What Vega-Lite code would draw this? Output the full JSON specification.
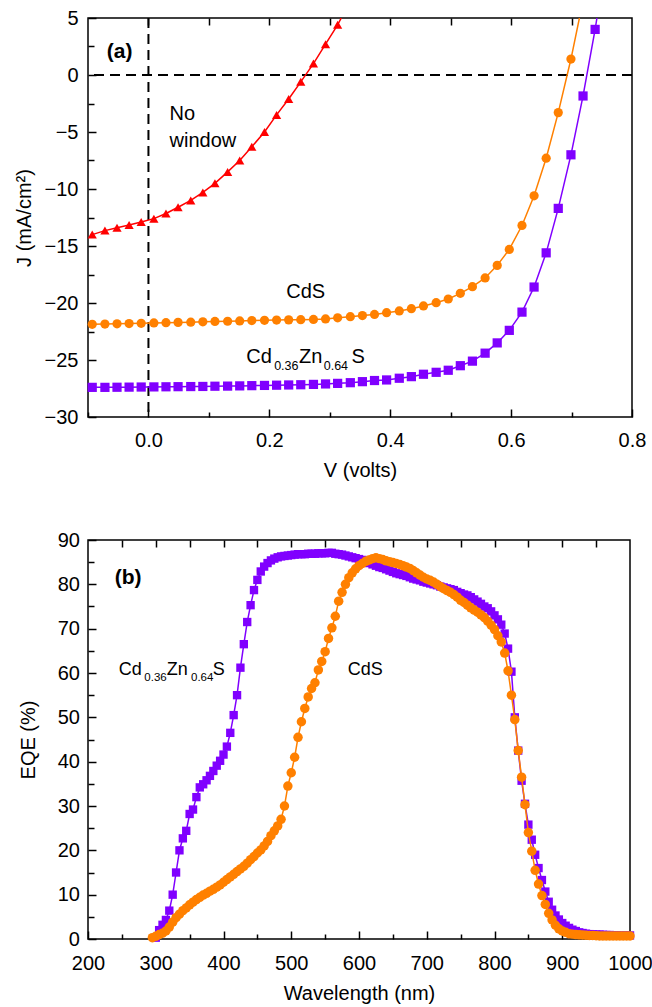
{
  "$schema": "https://vega.github.io/schema/vega-lite/v6.json",
  "padding": {"left": 13, "top": 7, "right": 0, "bottom": 5},
  "config": {
    "font": "Liberation Sans",
    "view": {"stroke": "black", "strokeWidth": 1.5},
    "axis": {"grid": false, "domain": false, "ticks": true, "labelFlush": false, "labelFont": "Liberation Sans", "labelFontSize": 20, "titleFont": "Liberation Sans", "titleFontSize": 20, "titleFontWeight": "normal", "labelColor": "black", "titleColor": "black", "tickColor": "black", "tickOpacity": 1, "tickWidth": 1.5, "zindex": 1},
    "concat": {"spacing": 48}
  },
  "datasets": {
    "iv": [
      {"V":-0.093,"J":-14.0,"d":"No window"},{"V":-0.072,"J":-13.65,"d":"No window"},{"V":-0.052,"J":-13.4,"d":"No window"},{"V":-0.032,"J":-13.15,"d":"No window"},{"V":-0.012,"J":-12.9,"d":"No window"},{"V":0.009,"J":-12.6,"d":"No window"},{"V":0.029,"J":-12.15,"d":"No window"},{"V":0.049,"J":-11.6,"d":"No window"},{"V":0.070,"J":-11.0,"d":"No window"},{"V":0.090,"J":-10.3,"d":"No window"},{"V":0.110,"J":-9.5,"d":"No window"},{"V":0.131,"J":-8.5,"d":"No window"},{"V":0.151,"J":-7.5,"d":"No window"},{"V":0.171,"J":-6.3,"d":"No window"},{"V":0.192,"J":-5.0,"d":"No window"},{"V":0.212,"J":-3.5,"d":"No window"},{"V":0.232,"J":-2.1,"d":"No window"},{"V":0.252,"J":-0.6,"d":"No window"},{"V":0.273,"J":1.0,"d":"No window"},{"V":0.293,"J":2.7,"d":"No window"},{"V":0.313,"J":4.4,"d":"No window"},{"V":0.319,"J":5.0,"d":"No window"},
      {"V":-0.093,"J":-21.87,"d":"CdS"},{"V":-0.072,"J":-21.85,"d":"CdS"},{"V":-0.052,"J":-21.83,"d":"CdS"},{"V":-0.032,"J":-21.8,"d":"CdS"},{"V":-0.012,"J":-21.78,"d":"CdS"},{"V":0.009,"J":-21.75,"d":"CdS"},{"V":0.029,"J":-21.73,"d":"CdS"},{"V":0.049,"J":-21.7,"d":"CdS"},{"V":0.070,"J":-21.68,"d":"CdS"},{"V":0.090,"J":-21.65,"d":"CdS"},{"V":0.110,"J":-21.62,"d":"CdS"},{"V":0.131,"J":-21.6,"d":"CdS"},{"V":0.151,"J":-21.57,"d":"CdS"},{"V":0.171,"J":-21.54,"d":"CdS"},{"V":0.192,"J":-21.52,"d":"CdS"},{"V":0.212,"J":-21.5,"d":"CdS"},{"V":0.232,"J":-21.48,"d":"CdS"},{"V":0.252,"J":-21.46,"d":"CdS"},{"V":0.273,"J":-21.44,"d":"CdS"},{"V":0.293,"J":-21.4,"d":"CdS"},{"V":0.313,"J":-21.3,"d":"CdS"},{"V":0.334,"J":-21.2,"d":"CdS"},{"V":0.354,"J":-21.1,"d":"CdS"},{"V":0.374,"J":-21.0,"d":"CdS"},{"V":0.394,"J":-20.85,"d":"CdS"},{"V":0.415,"J":-20.7,"d":"CdS"},{"V":0.435,"J":-20.5,"d":"CdS"},{"V":0.455,"J":-20.26,"d":"CdS"},{"V":0.476,"J":-19.97,"d":"CdS"},{"V":0.496,"J":-19.65,"d":"CdS"},{"V":0.516,"J":-19.15,"d":"CdS"},{"V":0.536,"J":-18.57,"d":"CdS"},{"V":0.557,"J":-17.8,"d":"CdS"},{"V":0.577,"J":-16.7,"d":"CdS"},{"V":0.597,"J":-15.3,"d":"CdS"},{"V":0.618,"J":-13.2,"d":"CdS"},{"V":0.638,"J":-10.6,"d":"CdS"},{"V":0.658,"J":-7.3,"d":"CdS"},{"V":0.678,"J":-3.3,"d":"CdS"},{"V":0.699,"J":1.4,"d":"CdS"},{"V":0.713,"J":5.0,"d":"CdS"},
      {"V":-0.093,"J":-27.4,"d":"CdZnS"},{"V":-0.072,"J":-27.4,"d":"CdZnS"},{"V":-0.052,"J":-27.39,"d":"CdZnS"},{"V":-0.032,"J":-27.38,"d":"CdZnS"},{"V":-0.012,"J":-27.37,"d":"CdZnS"},{"V":0.009,"J":-27.36,"d":"CdZnS"},{"V":0.029,"J":-27.35,"d":"CdZnS"},{"V":0.049,"J":-27.34,"d":"CdZnS"},{"V":0.070,"J":-27.33,"d":"CdZnS"},{"V":0.090,"J":-27.32,"d":"CdZnS"},{"V":0.110,"J":-27.3,"d":"CdZnS"},{"V":0.131,"J":-27.29,"d":"CdZnS"},{"V":0.151,"J":-27.27,"d":"CdZnS"},{"V":0.171,"J":-27.25,"d":"CdZnS"},{"V":0.192,"J":-27.23,"d":"CdZnS"},{"V":0.212,"J":-27.21,"d":"CdZnS"},{"V":0.232,"J":-27.19,"d":"CdZnS"},{"V":0.252,"J":-27.17,"d":"CdZnS"},{"V":0.273,"J":-27.14,"d":"CdZnS"},{"V":0.293,"J":-27.1,"d":"CdZnS"},{"V":0.313,"J":-27.05,"d":"CdZnS"},{"V":0.334,"J":-26.99,"d":"CdZnS"},{"V":0.354,"J":-26.9,"d":"CdZnS"},{"V":0.374,"J":-26.8,"d":"CdZnS"},{"V":0.394,"J":-26.75,"d":"CdZnS"},{"V":0.415,"J":-26.6,"d":"CdZnS"},{"V":0.435,"J":-26.46,"d":"CdZnS"},{"V":0.455,"J":-26.25,"d":"CdZnS"},{"V":0.476,"J":-26.08,"d":"CdZnS"},{"V":0.496,"J":-25.9,"d":"CdZnS"},{"V":0.516,"J":-25.5,"d":"CdZnS"},{"V":0.536,"J":-25.1,"d":"CdZnS"},{"V":0.557,"J":-24.4,"d":"CdZnS"},{"V":0.577,"J":-23.5,"d":"CdZnS"},{"V":0.597,"J":-22.4,"d":"CdZnS"},{"V":0.618,"J":-20.8,"d":"CdZnS"},{"V":0.638,"J":-18.6,"d":"CdZnS"},{"V":0.658,"J":-15.6,"d":"CdZnS"},{"V":0.678,"J":-11.7,"d":"CdZnS"},{"V":0.699,"J":-7.0,"d":"CdZnS"},{"V":0.719,"J":-1.84,"d":"CdZnS"},{"V":0.739,"J":4.0,"d":"CdZnS"},{"V":0.742,"J":5.0,"d":"CdZnS"}
    ],
    "eqe_czs": [
      {"wl":300,"q":0.3},{"wl":305,"q":2.0},{"wl":310,"q":3.2},{"wl":315,"q":4.3},{"wl":320,"q":6.4},{"wl":325,"q":10.0},{"wl":330,"q":15.0},{"wl":335,"q":20.0},{"wl":340,"q":22.7},{"wl":345,"q":24.4},{"wl":350,"q":28.2},{"wl":355,"q":29.2},{"wl":360,"q":32.0},{"wl":365,"q":34.2},{"wl":370,"q":34.9},{"wl":375,"q":35.8},{"wl":380,"q":36.8},{"wl":385,"q":37.9},{"wl":390,"q":39.1},{"wl":395,"q":40.2},{"wl":400,"q":41.6},{"wl":405,"q":43.4},{"wl":410,"q":46.5},{"wl":415,"q":50.5},{"wl":420,"q":55.0},{"wl":425,"q":61.2},{"wl":430,"q":66.5},{"wl":435,"q":71.5},{"wl":440,"q":75.3},{"wl":445,"q":78.7},{"wl":450,"q":81.0},{"wl":455,"q":82.9},{"wl":460,"q":84.0},{"wl":465,"q":84.8},{"wl":470,"q":85.4},{"wl":475,"q":85.8},{"wl":480,"q":86.1},{"wl":485,"q":86.3},{"wl":490,"q":86.4},{"wl":495,"q":86.5},{"wl":500,"q":86.6},{"wl":505,"q":86.7},{"wl":510,"q":86.8},{"wl":515,"q":86.8},{"wl":520,"q":86.8},{"wl":525,"q":86.9},{"wl":530,"q":86.9},{"wl":535,"q":86.9},{"wl":540,"q":87.0},{"wl":545,"q":87.0},{"wl":550,"q":87.0},{"wl":555,"q":87.1},{"wl":560,"q":87.1},{"wl":565,"q":86.9},{"wl":570,"q":86.8},{"wl":575,"q":86.7},{"wl":580,"q":86.5},{"wl":585,"q":86.3},{"wl":590,"q":86.1},{"wl":595,"q":85.9},{"wl":600,"q":85.7},{"wl":605,"q":85.5},{"wl":610,"q":85.2},{"wl":615,"q":84.8},{"wl":620,"q":84.5},{"wl":625,"q":84.2},{"wl":630,"q":83.9},{"wl":635,"q":83.7},{"wl":640,"q":83.4},{"wl":645,"q":83.1},{"wl":650,"q":82.8},{"wl":655,"q":82.5},{"wl":660,"q":82.3},{"wl":665,"q":82.1},{"wl":670,"q":81.9},{"wl":675,"q":81.6},{"wl":680,"q":81.3},{"wl":685,"q":81.1},{"wl":690,"q":80.9},{"wl":695,"q":80.6},{"wl":700,"q":80.4},{"wl":705,"q":80.2},{"wl":710,"q":80.0},{"wl":715,"q":79.8},{"wl":720,"q":79.5},{"wl":725,"q":79.3},{"wl":730,"q":79.1},{"wl":735,"q":78.9},{"wl":740,"q":78.7},{"wl":745,"q":78.3},{"wl":750,"q":78.0},{"wl":755,"q":77.7},{"wl":760,"q":77.5},{"wl":765,"q":77.1},{"wl":770,"q":76.6},{"wl":775,"q":76.1},{"wl":780,"q":75.6},{"wl":785,"q":75.0},{"wl":790,"q":74.6},{"wl":795,"q":73.9},{"wl":800,"q":73.0},{"wl":805,"q":72.1},{"wl":810,"q":70.9},{"wl":815,"q":68.9},{"wl":820,"q":65.5},{"wl":825,"q":60.3},{"wl":830,"q":50.0},{"wl":835,"q":42.5},{"wl":840,"q":35.7},{"wl":845,"q":30.5},{"wl":850,"q":25.8},{"wl":855,"q":22.4},{"wl":860,"q":19.0},{"wl":865,"q":16.0},{"wl":870,"q":13.3},{"wl":875,"q":10.7},{"wl":880,"q":8.4},{"wl":885,"q":6.6},{"wl":890,"q":5.3},{"wl":895,"q":4.4},{"wl":900,"q":3.6},{"wl":905,"q":3.0},{"wl":910,"q":2.5},{"wl":915,"q":2.1},{"wl":920,"q":1.8},{"wl":925,"q":1.5},{"wl":930,"q":1.35},{"wl":935,"q":1.2},{"wl":940,"q":1.1},{"wl":945,"q":1.05},{"wl":950,"q":1.0},{"wl":955,"q":1.0},{"wl":960,"q":0.95},{"wl":965,"q":0.9},{"wl":970,"q":0.9},{"wl":975,"q":0.85},{"wl":980,"q":0.85},{"wl":985,"q":0.8},{"wl":990,"q":0.8},{"wl":995,"q":0.8},{"wl":1000,"q":0.8}
    ],
    "eqe_cds": [
      {"wl":295,"q":0.3},{"wl":300,"q":0.6},{"wl":305,"q":1.0},{"wl":310,"q":1.3},{"wl":315,"q":1.8},{"wl":320,"q":2.7},{"wl":325,"q":3.8},{"wl":330,"q":4.8},{"wl":335,"q":5.6},{"wl":340,"q":6.4},{"wl":345,"q":7.0},{"wl":350,"q":7.7},{"wl":355,"q":8.3},{"wl":360,"q":8.9},{"wl":365,"q":9.4},{"wl":370,"q":9.9},{"wl":375,"q":10.3},{"wl":380,"q":10.8},{"wl":385,"q":11.2},{"wl":390,"q":11.7},{"wl":395,"q":12.2},{"wl":400,"q":12.8},{"wl":405,"q":13.4},{"wl":410,"q":14.0},{"wl":415,"q":14.6},{"wl":420,"q":15.2},{"wl":425,"q":15.8},{"wl":430,"q":16.4},{"wl":435,"q":17.1},{"wl":440,"q":17.9},{"wl":445,"q":18.6},{"wl":450,"q":19.4},{"wl":455,"q":20.1},{"wl":460,"q":21.0},{"wl":465,"q":22.0},{"wl":470,"q":23.3},{"wl":475,"q":24.4},{"wl":480,"q":25.5},{"wl":485,"q":27.0},{"wl":490,"q":30.0},{"wl":495,"q":34.5},{"wl":500,"q":37.5},{"wl":505,"q":41.0},{"wl":510,"q":45.5},{"wl":515,"q":49.0},{"wl":520,"q":52.0},{"wl":525,"q":54.6},{"wl":530,"q":56.5},{"wl":535,"q":57.8},{"wl":540,"q":60.7},{"wl":545,"q":62.6},{"wl":550,"q":64.8},{"wl":555,"q":67.8},{"wl":560,"q":70.2},{"wl":565,"q":72.8},{"wl":570,"q":76.2},{"wl":575,"q":78.2},{"wl":580,"q":80.0},{"wl":585,"q":81.5},{"wl":590,"q":82.6},{"wl":595,"q":83.5},{"wl":600,"q":84.2},{"wl":605,"q":84.7},{"wl":610,"q":85.2},{"wl":615,"q":85.5},{"wl":620,"q":85.8},{"wl":625,"q":86.0},{"wl":630,"q":85.8},{"wl":635,"q":85.6},{"wl":640,"q":85.3},{"wl":645,"q":85.1},{"wl":650,"q":84.9},{"wl":655,"q":84.7},{"wl":660,"q":84.5},{"wl":665,"q":84.2},{"wl":670,"q":83.9},{"wl":675,"q":83.6},{"wl":680,"q":83.1},{"wl":685,"q":82.6},{"wl":690,"q":82.1},{"wl":695,"q":81.6},{"wl":700,"q":81.2},{"wl":705,"q":80.9},{"wl":710,"q":80.5},{"wl":715,"q":80.0},{"wl":720,"q":79.5},{"wl":725,"q":79.0},{"wl":730,"q":78.6},{"wl":735,"q":78.2},{"wl":740,"q":77.7},{"wl":745,"q":77.1},{"wl":750,"q":76.4},{"wl":755,"q":75.9},{"wl":760,"q":75.3},{"wl":765,"q":74.7},{"wl":770,"q":74.2},{"wl":775,"q":73.7},{"wl":780,"q":73.1},{"wl":785,"q":72.5},{"wl":790,"q":71.7},{"wl":795,"q":70.8},{"wl":800,"q":69.8},{"wl":805,"q":68.4},{"wl":810,"q":67.0},{"wl":815,"q":64.5},{"wl":820,"q":60.5},{"wl":825,"q":55.0},{"wl":830,"q":49.5},{"wl":835,"q":42.5},{"wl":840,"q":36.5},{"wl":845,"q":30.3},{"wl":850,"q":24.0},{"wl":855,"q":19.8},{"wl":860,"q":15.5},{"wl":865,"q":12.4},{"wl":870,"q":9.8},{"wl":875,"q":7.8},{"wl":880,"q":5.8},{"wl":885,"q":4.3},{"wl":890,"q":3.1},{"wl":895,"q":2.3},{"wl":900,"q":1.8},{"wl":905,"q":1.5},{"wl":910,"q":1.2},{"wl":915,"q":1.1},{"wl":920,"q":1.0},{"wl":925,"q":0.95},{"wl":930,"q":0.9},{"wl":935,"q":0.85},{"wl":940,"q":0.8},{"wl":945,"q":0.8},{"wl":950,"q":0.75},{"wl":955,"q":0.7},{"wl":960,"q":0.7},{"wl":965,"q":0.7},{"wl":970,"q":0.7},{"wl":975,"q":0.7},{"wl":980,"q":0.7},{"wl":985,"q":0.7},{"wl":990,"q":0.7},{"wl":995,"q":0.7},{"wl":1000,"q":0.7}
    ]
  },
  "columns": 1,
  "align": "none",
  "concat": [
    {
      "width": 544,
      "height": 399,
      "resolve": {"axis": {"x": "independent", "y": "independent"}},
      "layer": [
        {
          "data": {"values": [{"ref": 0}]},
          "mark": {"type": "rule", "strokeDash": [10, 6], "strokeWidth": 2, "color": "black"},
          "encoding": {
            "x": {"field": "ref", "type": "quantitative", "scale": {"domain": [-0.1, 0.8], "nice": false, "zero": false},
                  "axis": {"orient": "bottom", "values": [-0.1, 0.1, 0.3, 0.5, 0.7], "labels": false, "offset": -5, "tickSize": 5, "title": null}}
          }
        },
        {
          "data": {"values": [{"ref": 0}]},
          "mark": {"type": "rule", "strokeDash": [10, 6], "strokeWidth": 2, "color": "black"},
          "encoding": {
            "y": {"field": "ref", "type": "quantitative", "scale": {"domain": [-30, 5], "nice": false, "zero": false},
                  "axis": {"orient": "left", "values": [-27.5, -22.5, -17.5, -12.5, -7.5, -2.5, 2.5], "labels": false, "offset": -6, "tickSize": 6, "title": null}}
          }
        },
        {
          "data": {"name": "iv"},
          "mark": {"type": "line", "strokeWidth": 1.5, "clip": true},
          "encoding": {
            "x": {"field": "V", "type": "quantitative",
                  "axis": {"orient": "bottom", "values": [0, 0.2, 0.4, 0.6, 0.8], "format": ".1f", "tickSize": 0, "labelPadding": 13, "title": "V (volts)", "titlePadding": 10}},
            "y": {"field": "J", "type": "quantitative",
                  "axis": {"orient": "left", "values": [-30, -25, -20, -15, -10, -5, 0, 5], "tickSize": 0, "labelPadding": 10, "title": "J (mA/cm²)", "titlePadding": 9.7}},
            "color": {"field": "d", "type": "nominal", "scale": {"domain": ["No window", "CdS", "CdZnS"], "range": ["#FF0000", "#FF8000", "#8000FF"]}, "legend": null}
          }
        },
        {
          "data": {"name": "iv"},
          "transform": [{"filter": "datum.J < 5"}],
          "mark": {"type": "point", "filled": true, "opacity": 1, "size": 85},
          "encoding": {
            "x": {"field": "V", "type": "quantitative",
                  "axis": {"orient": "bottom", "values": [0, 0.2, 0.4, 0.6, 0.8], "labels": false, "offset": -8, "tickSize": 8, "title": null}},
            "y": {"field": "J", "type": "quantitative",
                  "axis": {"orient": "left", "values": [-30, -25, -20, -15, -10, -5, 0, 5], "labels": false, "offset": -8, "tickSize": 8, "title": null}},
            "color": {"field": "d", "type": "nominal", "scale": {"domain": ["No window", "CdS", "CdZnS"], "range": ["#FF0000", "#FF8000", "#8000FF"]}, "legend": null},
            "shape": {"field": "d", "type": "nominal", "scale": {"domain": ["No window", "CdS", "CdZnS"], "range": ["triangle-up", "circle", "square"]}, "legend": null}
          }
        },
        {
          "data": {"values": [{"x": -0.069, "y": 1.5, "t": "(a)"}]},
          "mark": {"type": "text", "align": "left", "baseline": "alphabetic", "fontSize": 21, "fontWeight": "bold", "font": "Liberation Sans", "color": "black"},
          "encoding": {
            "x": {"field": "x", "type": "quantitative",
                  "axis": {"orient": "top", "values": [0, 0.1, 0.2, 0.3, 0.4, 0.5, 0.6, 0.7], "labels": false, "offset": -7, "tickSize": 7, "title": null}},
            "y": {"field": "y", "type": "quantitative", "axis": null},
            "text": {"field": "t"}
          }
        },
        {
          "data": {"values": [
            {"x": 0.035, "y": -3.95, "t": "No"},
            {"x": 0.035, "y": -6.3, "t": "window"},
            {"x": 0.228, "y": -19.6, "t": "CdS"},
            {"x": 0.162, "y": -25.3, "t": "Cd"},
            {"x": 0.249, "y": -25.3, "t": "Zn"},
            {"x": 0.336, "y": -25.3, "t": "S"}
          ]},
          "mark": {"type": "text", "align": "left", "baseline": "alphabetic", "fontSize": 20, "font": "Liberation Sans", "color": "black"},
          "encoding": {
            "x": {"field": "x", "type": "quantitative", "axis": null},
            "y": {"field": "y", "type": "quantitative", "axis": null},
            "text": {"field": "t"}
          }
        },
        {
          "data": {"values": [
            {"x": 0.208, "y": -25.9, "t": "0.36"},
            {"x": 0.290, "y": -25.9, "t": "0.64"}
          ]},
          "mark": {"type": "text", "align": "left", "baseline": "alphabetic", "fontSize": 12.5, "font": "Liberation Sans", "color": "black"},
          "encoding": {
            "x": {"field": "x", "type": "quantitative", "axis": null},
            "y": {"field": "y", "type": "quantitative", "axis": null},
            "text": {"field": "t"}
          }
        }
      ]
    },
    {
      "width": 542,
      "height": 399,
      "resolve": {"axis": {"x": "independent", "y": "independent"}},
      "layer": [
        {
          "data": {"name": "eqe_czs"},
          "mark": {"type": "line", "strokeWidth": 1.5, "color": "#8000FF"},
          "encoding": {
            "x": {"field": "wl", "type": "quantitative", "scale": {"domain": [200, 1000], "nice": false, "zero": false},
                  "axis": {"orient": "bottom", "values": [200, 300, 400, 500, 600, 700, 800, 900, 1000], "format": "d", "tickSize": 0, "labelPadding": 14, "title": "Wavelength (nm)", "titlePadding": 10}},
            "y": {"field": "q", "type": "quantitative", "scale": {"domain": [0, 90], "nice": false, "zero": false},
                  "axis": {"orient": "left", "values": [0, 10, 20, 30, 40, 50, 60, 70, 80, 90], "format": "d", "tickSize": 0, "labelPadding": 8.6, "title": "EQE (%)", "titlePadding": 19}}
          }
        },
        {
          "data": {"name": "eqe_czs"},
          "mark": {"type": "point", "shape": "square", "filled": true, "opacity": 1, "size": 70, "color": "#8000FF"},
          "encoding": {
            "x": {"field": "wl", "type": "quantitative",
                  "axis": {"orient": "bottom", "values": [200, 300, 400, 500, 600, 700, 800, 900, 1000], "labels": false, "offset": -8, "tickSize": 8, "title": null}},
            "y": {"field": "q", "type": "quantitative",
                  "axis": {"orient": "left", "values": [0, 10, 20, 30, 40, 50, 60, 70, 80, 90], "labels": false, "offset": -8, "tickSize": 8, "title": null}}
          }
        },
        {
          "data": {"name": "eqe_cds"},
          "mark": {"type": "line", "strokeWidth": 1.5, "color": "#FF8000"},
          "encoding": {
            "x": {"field": "wl", "type": "quantitative",
                  "axis": {"orient": "bottom", "values": [250, 350, 450, 550, 650, 750, 850, 950], "labels": false, "offset": -5, "tickSize": 5, "title": null}},
            "y": {"field": "q", "type": "quantitative",
                  "axis": {"orient": "left", "values": [5, 15, 25, 35, 45, 55, 65, 75, 85], "labels": false, "offset": -6, "tickSize": 6, "title": null}}
          }
        },
        {
          "data": {"name": "eqe_cds"},
          "mark": {"type": "point", "shape": "circle", "filled": true, "opacity": 1, "size": 90, "color": "#FF8000"},
          "encoding": {
            "x": {"field": "wl", "type": "quantitative", "axis": null},
            "y": {"field": "q", "type": "quantitative", "axis": null}
          }
        },
        {
          "data": {"values": [{"x": 239.4, "y": 80.0, "t": "(b)"}]},
          "mark": {"type": "text", "align": "left", "baseline": "alphabetic", "fontSize": 21, "fontWeight": "bold", "font": "Liberation Sans", "color": "black"},
          "encoding": {
            "x": {"field": "x", "type": "quantitative",
                  "axis": {"orient": "top", "values": [250, 300, 350, 400, 450, 500, 550, 600, 650, 700, 750, 800, 850, 900, 950], "labels": false, "offset": -7, "tickSize": 7, "title": null}},
            "y": {"field": "y", "type": "quantitative", "axis": null},
            "text": {"field": "t"}
          }
        },
        {
          "data": {"values": [
            {"x": 245.4, "y": 59.5, "t": "Cd"},
            {"x": 316.2, "y": 59.5, "t": "Zn"},
            {"x": 384.0, "y": 59.5, "t": "S"},
            {"x": 583.3, "y": 59.5, "t": "CdS"}
          ]},
          "mark": {"type": "text", "align": "left", "baseline": "alphabetic", "fontSize": 18, "font": "Liberation Sans", "color": "black"},
          "encoding": {
            "x": {"field": "x", "type": "quantitative", "axis": null},
            "y": {"field": "y", "type": "quantitative", "axis": null},
            "text": {"field": "t"}
          }
        },
        {
          "data": {"values": [
            {"x": 283.2, "y": 58.2, "t": "0.36"},
            {"x": 352.0, "y": 58.2, "t": "0.64"}
          ]},
          "mark": {"type": "text", "align": "left", "baseline": "alphabetic", "fontSize": 11.5, "font": "Liberation Sans", "color": "black"},
          "encoding": {
            "x": {"field": "x", "type": "quantitative", "axis": null},
            "y": {"field": "y", "type": "quantitative", "axis": null},
            "text": {"field": "t"}
          }
        }
      ]
    }
  ]
}
